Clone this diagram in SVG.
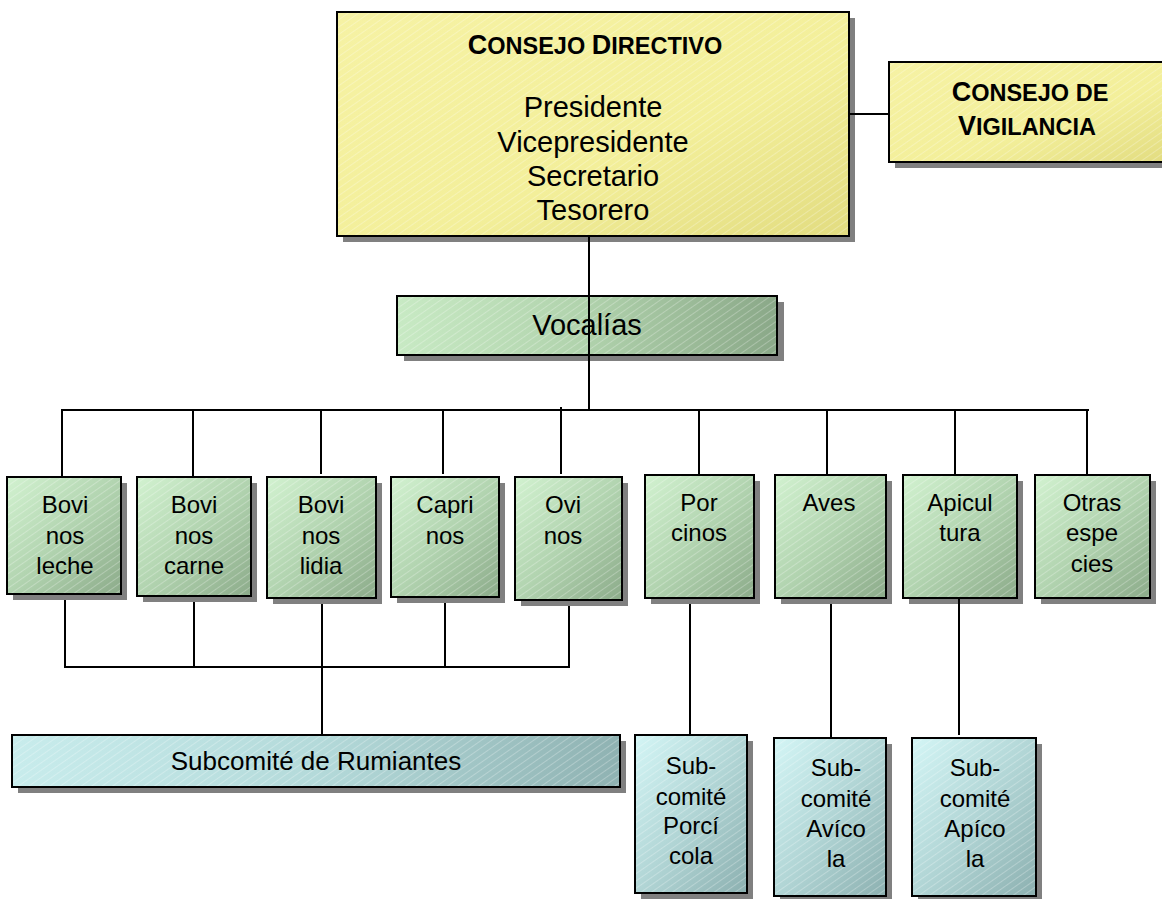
<svg xmlns="http://www.w3.org/2000/svg" width="1162" height="899" viewBox="0 0 1162 899">
<defs>
<pattern id="hatch" width="6" height="6" patternUnits="userSpaceOnUse" patternTransform="rotate(-35)">
<line x1="0" y1="0" x2="6" y2="0" stroke="#ffffff" stroke-opacity="0.35" stroke-width="1.5"/>
</pattern>
<linearGradient id="gY" x1="0" y1="0" x2="1" y2="1">
<stop offset="0" stop-color="#f6f2a4"/>
<stop offset="0.6" stop-color="#f3ef9a"/>
<stop offset="1" stop-color="#e2dc80"/>
</linearGradient>
<linearGradient id="gG" x1="0" y1="0" x2="1" y2="1">
<stop offset="0" stop-color="#d2f2d0"/>
<stop offset="0.5" stop-color="#b2d4b0"/>
<stop offset="1" stop-color="#8cab8a"/>
</linearGradient>
<linearGradient id="gGh" x1="0" y1="0" x2="1" y2="0">
<stop offset="0" stop-color="#c8eac4"/>
<stop offset="0.5" stop-color="#b0d2ac"/>
<stop offset="1" stop-color="#8aa888"/>
</linearGradient>
<linearGradient id="gT" x1="0" y1="0" x2="1" y2="1">
<stop offset="0" stop-color="#d4f6f6"/>
<stop offset="0.5" stop-color="#b2d6d6"/>
<stop offset="1" stop-color="#8cb0b0"/>
</linearGradient>
<linearGradient id="gTh" x1="0" y1="0" x2="1" y2="0">
<stop offset="0" stop-color="#c8ecec"/>
<stop offset="0.5" stop-color="#b4dada"/>
<stop offset="1" stop-color="#8fb2b2"/>
</linearGradient>
</defs>
<style>
.sh{fill:#808080}
.bx{stroke:#000;stroke-width:2}
.y{fill:url(#gY)}
.g{fill:url(#gG)}
.gh{fill:url(#gGh)}
.t{fill:url(#gT)}
.th{fill:url(#gTh)}
.h{fill:url(#hatch)}
text{font-family:"Liberation Sans",Arial,sans-serif;fill:#000;text-anchor:middle}
.n{font-size:24px}
.L{font-size:29px}
.b{font-weight:bold}
.c1{font-size:27px}
.c2{font-size:23.5px}
.cn line,.cn path{stroke:#000;stroke-width:2;fill:none}
</style>

<g id="consejo-directivo">
<rect class="sh" x="343" y="18" width="512" height="224"/>
<rect class="bx y" x="337" y="12" width="512" height="224"/>
<rect class="h" x="338" y="13" width="510" height="222"/>
<text class="b" x="595" y="54"><tspan class="c1">C</tspan><tspan class="c2">ONSEJO </tspan><tspan class="c1">D</tspan><tspan class="c2">IRECTIVO</tspan></text>
<text class="L" x="593" y="117">Presidente</text>
<text class="L" x="593" y="152">Vicepresidente</text>
<text class="L" x="593" y="186">Secretario</text>
<text class="L" x="593" y="220">Tesorero</text>
</g>

<g id="consejo-vigilancia">
<rect class="sh" x="895" y="68" width="280" height="100"/>
<rect class="bx y" x="889" y="62" width="280" height="100"/>
<rect class="h" x="890" y="63" width="278" height="98"/>
<text class="b" x="1030" y="101"><tspan class="c1">C</tspan><tspan class="c2">ONSEJO DE</tspan></text>
<text class="b" x="1027" y="135"><tspan class="c1">V</tspan><tspan class="c2">IGILANCIA</tspan></text>
</g>

<g id="vocalias">
<rect class="sh" x="404" y="302" width="380" height="59"/>
<rect class="bx gh" x="397" y="296" width="380" height="59"/>
<rect class="h" x="398" y="297" width="378" height="57"/>
<text class="L" x="587" y="335">Vocalías</text>
</g>

<g id="bovinos-leche">
<rect class="sh" x="13" y="483" width="114" height="117"/>
<rect class="bx g" x="7" y="477" width="114" height="117"/>
<rect class="h" x="8" y="478" width="112" height="115"/>
<text class="n" x="65" y="513">Bovi</text>
<text class="n" x="65" y="544">nos</text>
<text class="n" x="65" y="574">leche</text>
</g>

<g id="bovinos-carne">
<rect class="sh" x="143" y="483" width="114" height="119"/>
<rect class="bx g" x="137" y="477" width="114" height="119"/>
<rect class="h" x="138" y="478" width="112" height="117"/>
<text class="n" x="194" y="513">Bovi</text>
<text class="n" x="194" y="544">nos</text>
<text class="n" x="194" y="574">carne</text>
</g>

<g id="bovinos-lidia">
<rect class="sh" x="273" y="483" width="109" height="121"/>
<rect class="bx g" x="267" y="477" width="109" height="121"/>
<rect class="h" x="268" y="478" width="107" height="119"/>
<text class="n" x="321" y="513">Bovi</text>
<text class="n" x="321" y="544">nos</text>
<text class="n" x="321" y="574">lidia</text>
</g>

<g id="caprinos">
<rect class="sh" x="397" y="483" width="108" height="120"/>
<rect class="bx g" x="391" y="477" width="108" height="120"/>
<rect class="h" x="392" y="478" width="106" height="118"/>
<text class="n" x="445" y="513">Capri</text>
<text class="n" x="445" y="544">nos</text>
</g>

<g id="ovinos">
<rect class="sh" x="521" y="483" width="107" height="123"/>
<rect class="bx g" x="515" y="477" width="107" height="123"/>
<rect class="h" x="516" y="478" width="105" height="121"/>
<text class="n" x="563" y="513">Ovi</text>
<text class="n" x="563" y="544">nos</text>
</g>

<g id="porcinos">
<rect class="sh" x="651" y="481" width="109" height="123"/>
<rect class="bx g" x="645" y="475" width="109" height="123"/>
<rect class="h" x="646" y="476" width="107" height="121"/>
<text class="n" x="699" y="511">Por</text>
<text class="n" x="699" y="541">cinos</text>
</g>

<g id="aves">
<rect class="sh" x="781" y="481" width="111" height="123"/>
<rect class="bx g" x="775" y="475" width="111" height="123"/>
<rect class="h" x="776" y="476" width="109" height="121"/>
<text class="n" x="829" y="511">Aves</text>
</g>

<g id="apicultura">
<rect class="sh" x="909" y="481" width="114" height="123"/>
<rect class="bx g" x="903" y="475" width="114" height="123"/>
<rect class="h" x="904" y="476" width="112" height="121"/>
<text class="n" x="960" y="511">Apicul</text>
<text class="n" x="960" y="541">tura</text>
</g>

<g id="otras-especies">
<rect class="sh" x="1041" y="481" width="115" height="123"/>
<rect class="bx g" x="1035" y="475" width="115" height="123"/>
<rect class="h" x="1036" y="476" width="113" height="121"/>
<text class="n" x="1092" y="511">Otras</text>
<text class="n" x="1092" y="541">espe</text>
<text class="n" x="1092" y="572">cies</text>
</g>

<g id="subcomite-rumiantes">
<rect class="sh" x="18" y="741" width="608" height="52"/>
<rect class="bx th" x="12" y="735" width="608" height="52"/>
<rect class="h" x="13" y="736" width="606" height="50"/>
<text x="316" y="770" font-size="26">Subcomité de Rumiantes</text>
</g>

<g id="subcomite-porcicola">
<rect class="sh" x="641" y="741" width="112" height="158"/>
<rect class="bx t" x="635" y="735" width="112" height="158"/>
<rect class="h" x="636" y="736" width="110" height="156"/>
<text class="n" x="691" y="774">Sub-</text>
<text class="n" x="691" y="805">comité</text>
<text class="n" x="691" y="834">Porcí</text>
<text class="n" x="691" y="864">cola</text>
</g>

<g id="subcomite-avicola">
<rect class="sh" x="780" y="744" width="112" height="158"/>
<rect class="bx t" x="774" y="738" width="112" height="158"/>
<rect class="h" x="775" y="739" width="110" height="156"/>
<text class="n" x="836" y="776">Sub-</text>
<text class="n" x="836" y="807">comité</text>
<text class="n" x="836" y="837">Avíco</text>
<text class="n" x="836" y="867">la</text>
</g>

<g id="subcomite-apicola">
<rect class="sh" x="918" y="744" width="124" height="158"/>
<rect class="bx t" x="912" y="738" width="124" height="158"/>
<rect class="h" x="913" y="739" width="122" height="156"/>
<text class="n" x="975" y="776">Sub-</text>
<text class="n" x="975" y="807">comité</text>
<text class="n" x="975" y="837">Apíco</text>
<text class="n" x="975" y="867">la</text>
</g>

<g id="connectors" class="cn">
<line x1="849" y1="114" x2="889" y2="114"/>
<line x1="589" y1="236" x2="589" y2="410"/>
<line x1="61" y1="410" x2="1089" y2="410"/>
<line x1="62" y1="410" x2="62" y2="477"/>
<line x1="193" y1="410" x2="193" y2="477"/>
<line x1="321" y1="410" x2="321" y2="474"/>
<line x1="443" y1="410" x2="443" y2="474"/>
<line x1="561" y1="407" x2="561" y2="474"/>
<line x1="699" y1="410" x2="699" y2="475"/>
<line x1="827" y1="410" x2="827" y2="475"/>
<line x1="955" y1="410" x2="955" y2="475"/>
<line x1="1087" y1="410" x2="1087" y2="475"/>
<path d="M65 600 V667 H569 V606"/>
<line x1="194" y1="602" x2="194" y2="667"/>
<line x1="445" y1="603" x2="445" y2="667"/>
<line x1="322" y1="604" x2="322" y2="735"/>
<line x1="690" y1="604" x2="690" y2="735"/>
<line x1="831" y1="604" x2="831" y2="738"/>
<line x1="959" y1="598" x2="959" y2="735"/>
</g>
</svg>
